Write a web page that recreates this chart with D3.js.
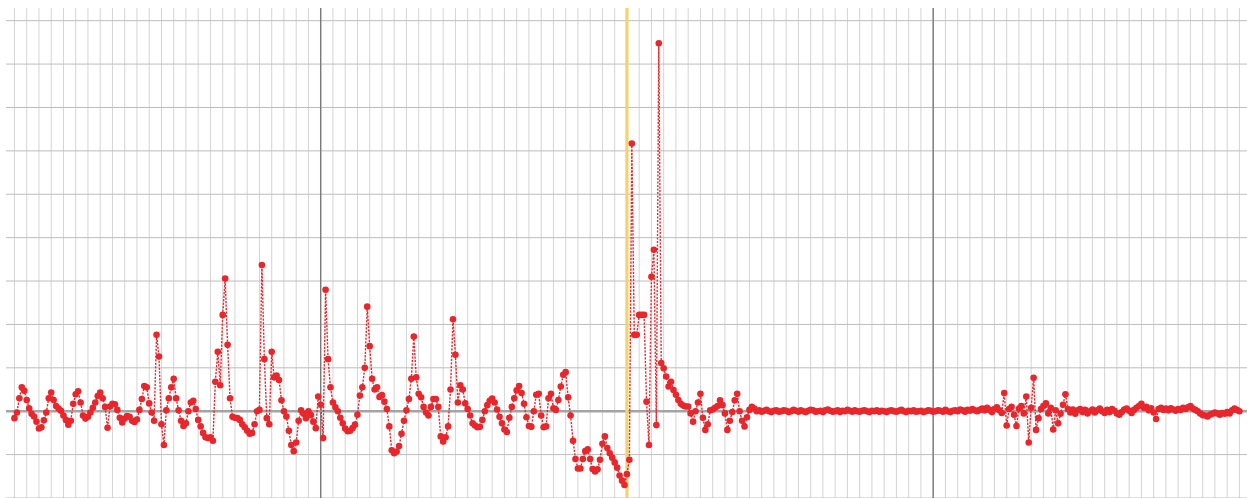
<!DOCTYPE html>
<html>
<head>
<meta charset="utf-8">
<script src="https://cdn.jsdelivr.net/npm/d3@7"></script>
<style>
  html, body { margin: 0; padding: 0; background: #fff; }
  svg { display: block; }
</style>
</head>
<body>
<div id="chart"></div>
<script>

// one reading per sample, index 0..500 (grid units)
const sampleValues = [
  -0.16, -0.03, 0.3, 0.55, 0.47, 0.26, 0.07, -0.06, -0.12, -0.24,
  -0.4, -0.37, -0.21, -0.03, 0.3, 0.43, 0.26, 0.12, 0.06, 0.01,
  -0.1, -0.2, -0.31, -0.22, 0.17, 0.39, 0.46, 0.2, -0.1, -0.17,
  -0.13, -0.03, 0.08, 0.2, 0.35, 0.43, 0.3, 0.1, -0.38, 0.11,
  0.17, 0.16, 0.03, -0.15, -0.26, -0.17, -0.11, -0.13, -0.22, -0.25,
  -0.19, 0.03, 0.28, 0.58, 0.55, 0.18, -0.03, -0.22, 1.76, 1.26,
  -0.3, -0.78, 0.02, 0.3, 0.55, 0.75, 0.3, 0.02, -0.22, -0.34,
  -0.28, 0.0, 0.2, 0.24, 0.05, -0.2, -0.35, -0.5, -0.6, -0.62,
  -0.6, -0.68, 0.68, 1.37, 0.6, 2.22, 3.06, 1.53, 0.3, -0.13,
  -0.15, -0.16, -0.2, -0.3, -0.37, -0.45, -0.52, -0.5, -0.3, 0.0,
  0.03, 3.37, 1.2, -0.16, -0.3, 1.37, 0.78, 0.82, 0.72, 0.25,
  0.0, -0.12, -0.45, -0.78, -0.92, -0.72, -0.22, 0.02, -0.06, -0.16,
  0.0, -0.09, -0.24, -0.39, 0.34, 0.15, -0.62, 2.8, 1.2, 0.55,
  0.2, 0.09, 0.0, -0.15, -0.28, -0.4, -0.46, -0.45, -0.39, -0.31,
  -0.08, 0.36, 0.55, 1.0, 2.41, 1.5, 0.75, 0.5, 0.55, 0.33,
  0.37, 0.22, 0.05, -0.35, -0.9, -0.97, -0.93, -0.8, -0.52, -0.22,
  0.02, 0.28, 0.75, 1.72, 0.78, 0.4, 0.32, 0.1, -0.03, -0.1,
  0.1, 0.28, 0.28, 0.1, -0.58, -0.7, -0.6, -0.35, 0.5, 2.12,
  1.3, 0.2, 0.6, 0.5, 0.18, 0.05, -0.1, -0.28, -0.33, -0.37,
  -0.36, -0.2, 0.0, 0.14, 0.24, 0.29, 0.2, 0.04, -0.13, -0.28,
  -0.42, -0.48, -0.15, 0.1, 0.3, 0.48, 0.58, 0.42, 0.17, -0.14,
  -0.34, -0.36, 0.0, 0.38, 0.4, -0.1, -0.37, -0.35, 0.3, 0.4,
  0.07, 0.03, 0.26, 0.57, 0.84, 0.9, 0.32, -0.1, -0.68, -1.1,
  -1.32, -1.32, -1.1, -0.92, -0.88, -1.1, -1.33, -1.39, -1.34, -1.12,
  -0.75, -0.58, -0.85, -0.97, -1.07, -1.18, -1.3, -1.48, -1.6, -1.7,
  -1.45, -1.12, 6.17, 1.76, 1.76, 2.22, 2.22, 2.22, 0.22, -0.78,
  3.1, 3.72, -0.32, 8.48, 1.11, 0.99, 0.8, 0.57, 0.68, 0.49,
  0.38, 0.26, 0.17, 0.13, 0.11, 0.11, -0.05, -0.24, 0.0, 0.2,
  0.4, -0.15, -0.43, -0.3, 0.02, 0.04, 0.08, 0.12, 0.25, 0.14,
  -0.05, -0.43, -0.22, -0.02, 0.25, 0.4, 0.0, -0.22, -0.35, -0.14,
  0.03, 0.1, 0.06, 0.0,
  0.02, -0.01, 0.01, 0.03, 0.0, -0.02, 0.01, 0.02, -0.01, 0.0,
  0.02, 0.01, -0.02, 0.0, 0.03, 0.01, -0.01, 0.02, 0.0, -0.02,
  0.01, 0.03, 0.02, -0.01, 0.0, 0.01, -0.02, 0.02, 0.04, 0.01,
  -0.01, 0.0, 0.02, -0.02, 0.01, 0.0, 0.03, 0.01, -0.01, 0.02,
  0.0, -0.01, 0.01, 0.02, 0.0, -0.02, 0.01, 0.0, 0.02, -0.01,
  0.01, 0.0, -0.02, 0.01, 0.02, 0.0, -0.01, 0.01, 0.03, 0.0,
  -0.02, 0.01, 0.0, 0.02, -0.01, 0.0, 0.01, -0.02, 0.0, 0.02,
  0.01, -0.01, 0.0, 0.02, 0.01, -0.01, 0.03, 0.0, -0.02, 0.01,
  0.02, 0.0, 0.04, 0.02, -0.01, 0.03, 0.01, 0.05, 0.02, 0.0,
  0.03,
  0.06, 0.02, 0.08, 0.03, -0.02, 0.05, 0.09, 0.02, -0.04,
  0.42, -0.33, 0.05, 0.1, -0.08, -0.34, 0.06, 0.12, -0.05, 0.34,
  -0.72, 0.08, 0.77, -0.43, -0.16, 0.05, 0.12, 0.18, -0.05, 0.08,
  -0.42, 0.02, -0.28, -0.06, 0.15, 0.39, 0.05,
  -0.03, 0.04, -0.06, 0.02, 0.05, -0.02, 0.03, -0.05, 0.0, 0.04,
  -0.03, 0.02, 0.06, 0.0, -0.04, 0.03, -0.02, 0.05, 0.01, -0.05,
  -0.08, -0.02, 0.04, 0.06, 0.01, -0.04, 0.03, 0.08, 0.12, 0.17,
  0.08, 0.1, 0.02, 0.07, -0.03, -0.18, 0.05, 0.08, 0.03, 0.06,
  0.02, 0.07, 0.04, 0.01, 0.05, 0.03, 0.08, 0.05, 0.09, 0.12,
  0.06, 0.03, 0.0, -0.05, -0.09, -0.1, -0.12, -0.08, -0.06, -0.03,
  -0.05, -0.08, -0.04, -0.06, -0.02, -0.05, 0.02, 0.06, 0.03, 0.0
];

// heavy vertical lines and the highlighted sample
const majorSamples = [125, 375];
const markedSample = 250;

const width = 1247, height = 498;

const x = d3.scaleLinear()
    .domain([-3.45, 503.1])
    .range([6, 1247]);

const y = d3.scaleLinear()
    .domain([-2, 9])
    .range([498, 20.7]);

const svg = d3.select('#chart').append('svg')
    .attr('width', width)
    .attr('height', height);

svg.append('rect')
    .attr('width', width)
    .attr('height', height)
    .attr('fill', '#fff');

// light vertical grid, one line every 5 samples
svg.append('g')
    .selectAll('line')
    .data(x.ticks(100))
    .join('line')
    .attr('x1', d => x(d)).attr('x2', d => x(d))
    .attr('y1', 8).attr('y2', height)
    .attr('stroke', '#d4d4d4')
    .attr('stroke-width', 1);

// horizontal grid
svg.append('g')
    .selectAll('line')
    .data(y.ticks(12).filter(d => d !== 0))
    .join('line')
    .attr('x1', 6).attr('x2', width)
    .attr('y1', d => y(d)).attr('y2', d => y(d))
    .attr('stroke', '#bdbdbd')
    .attr('stroke-width', 1);

svg.append('g')
    .selectAll('line')
    .data(majorSamples)
    .join('line')
    .attr('x1', d => x(d)).attr('x2', d => x(d))
    .attr('y1', 8).attr('y2', height)
    .attr('stroke', '#7a7a7a')
    .attr('stroke-width', 1.4);

// zero line
svg.append('line')
    .attr('x1', 6).attr('x2', width)
    .attr('y1', y(0)).attr('y2', y(0))
    .attr('stroke', '#a4a4a4')
    .attr('stroke-width', 2.4);

svg.append('line')
    .attr('x1', x(markedSample)).attr('x2', x(markedSample))
    .attr('y1', 8).attr('y2', height)
    .attr('stroke', '#f6d36a')
    .attr('stroke-width', 3.2);

const line = d3.line()
    .x((d, i) => x(i))
    .y(d => y(d));

svg.append('path')
    .datum(sampleValues)
    .attr('d', line)
    .attr('fill', 'none')
    .attr('stroke', '#e8262c')
    .attr('stroke-width', 1.4)
    .attr('stroke-dasharray', '2.2,1.3');

svg.append('g')
    .selectAll('circle')
    .data(sampleValues)
    .join('circle')
    .attr('cx', (d, i) => x(i))
    .attr('cy', d => y(d))
    .attr('r', 3.3)
    .attr('fill', '#e8262c');

</script>
</body>
</html>
